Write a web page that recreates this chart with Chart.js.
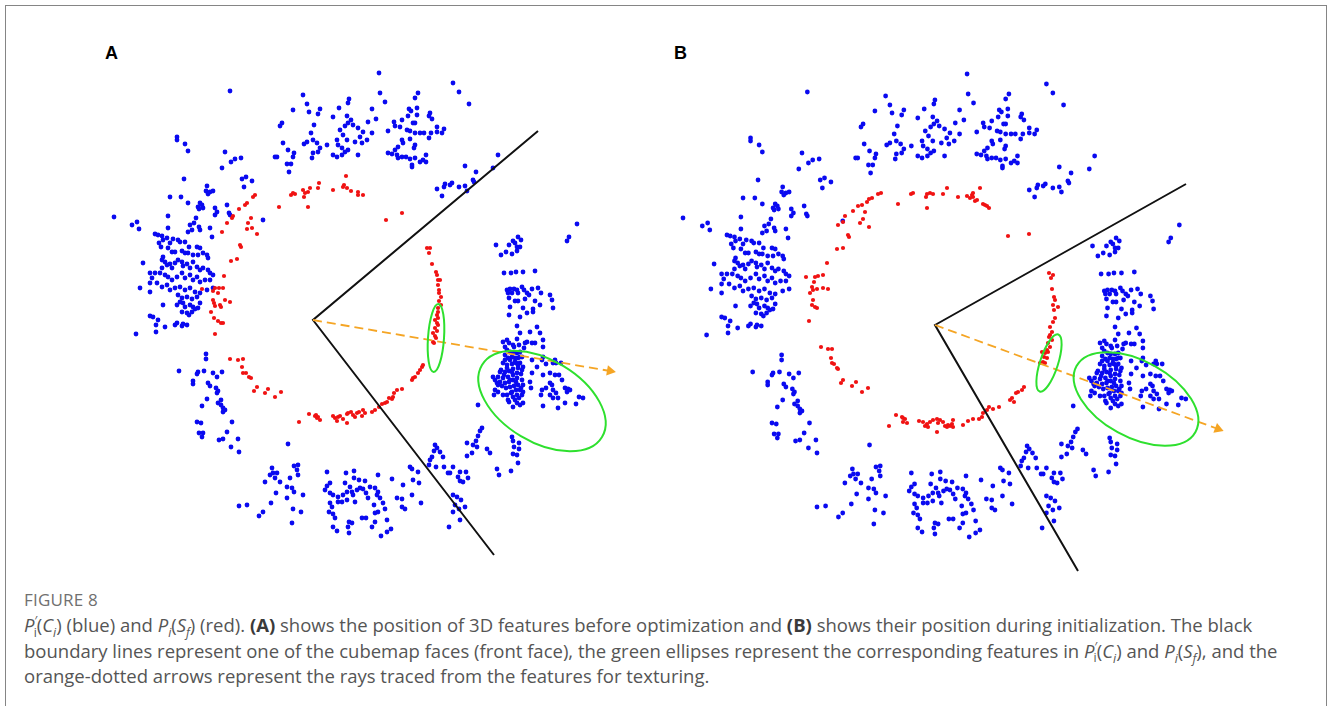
<!DOCTYPE html>
<html>
<head>
<meta charset="utf-8">
<script src="https://cdn.jsdelivr.net/npm/chart.js@4.4.1/dist/chart.umd.min.js"></script>
<style>
  html, body { margin: 0; padding: 0; background: #fff; }
  body { width: 1330px; height: 706px; position: relative; overflow: hidden; font-family: "Open Sans", sans-serif; }
  #frame { position: absolute; left: 5px; top: 5px; width: 1322px; height: 740px; border: 1.5px solid #858585; box-sizing: border-box; }
  .panel { position: absolute; }
  .lbl { position: absolute; font: bold 18px "Liberation Sans", Arial, sans-serif; color: #000; }
  #cap { position: absolute; left: 24px; top: 587px; color: #555555; font-size: 18.5px; line-height: 25.3px; white-space: nowrap; }
  #cap .fig { font-size: 17px; color: #707070; letter-spacing: 0.2px; }
  #cap sub, #cap sup { font-size: 0.66em; line-height: 0; }
  #cap b { font-weight: 700; color: #3a3a3a; }
</style>
</head>
<body>
<div id="frame"></div>
<div class="lbl" style="left:105px;top:43px">A</div>
<div class="lbl" style="left:674px;top:43px">B</div>
<canvas id="panelA" class="panel" width="540" height="540" style="left:100px;top:40px"></canvas>
<canvas id="panelB" class="panel" width="590" height="540" style="left:670px;top:40px"></canvas>
<div id="cap">
  <div class="fig">FIGURE 8</div>
  <div><i>P</i><sup>′</sup><sub style="margin-left:-0.3em">i</sub>(<i>C<sub>i</sub></i>) (blue) and <i>P<sub>i</sub></i>(<i>S<sub>f</sub></i>) (red). <b>(A)</b> shows the position of 3D features before optimization and <b>(B)</b> shows their position during initialization. The black</div>
  <div>boundary lines represent one of the cubemap faces (front face), the green ellipses represent the corresponding features in <i>P</i><sup>′</sup><sub style="margin-left:-0.3em">i</sub>(<i>C<sub>i</sub></i>) and <i>P<sub>i</sub></i>(<i>S<sub>f</sub></i>), and the</div>
  <div>orange-dotted arrows represent the rays traced from the features for texturing.</div>
</div>
<script>
/* ================================================================
   Feature positions (same units as panel A).
   Blue = P'i(Ci) camera features, shared by both panels.
================================================================ */
const blueUpperLeft = [
  [230,91],[177,137],[177,140],[185,144],[188,151],[225,152],[235,159],[241,158],[231,162],[222,168],
  [184,179],[242,179],[246,177],[252,181],[244,187],[114,217],[132,225],[137,222],[139,229],[170,197],
  [181,197],[188,203],[207,186],[206,191],[210,192],[213,191],[208,194],[200,203],[198,207],[202,205],
  [203,208],[199,209],[215,208],[217,212],[215,215],[227,205],[229,213],[230,215],[168,216],[196,218],
  [194,223],[190,225],[168,228],[188,232],[192,230],[199,227],[200,230],[210,228],[212,237],[263,220]
];
const blueLeftMass = [
  [155,234],[158,235],[162,236],[163,240],[167,238],[170,243],[173,239],[178,240],[180,242],[185,242],
  [189,247],[197,247],[200,248],[159,243],[161,247],[168,248],[172,252],[175,252],[182,251],[185,253],
  [188,253],[193,255],[198,255],[203,253],[207,255],[208,258],[163,257],[162,260],[165,262],[167,265],
  [170,264],[172,268],[175,263],[178,260],[182,262],[183,266],[187,264],[190,268],[193,262],[197,267],
  [200,270],[203,268],[208,270],[210,273],[213,275],[162,268],[160,273],[165,275],[168,277],[172,280],
  [177,277],[182,273],[185,278],[190,275],[193,280],[197,277],[200,282],[205,280],[210,280],[155,273],
  [150,273],[152,278],[150,283],[140,288],[143,263],[157,283],[162,287],[167,285],[170,290],[175,288],
  [180,287],[185,290],[190,288],[195,292],[200,293],[207,290],[213,288],[178,295],[182,298],[187,297],
  [192,299],[197,297],[200,303],[193,307],[190,305],[185,307],[183,303],[180,302],[177,305],[150,292],
  [163,305],[198,308],[195,309],[150,316],[153,317],[156,325],[158,320],[165,327],[156,332],[136,334],
  [175,325],[177,323],[182,326],[183,324],[187,325],[182,312],[187,313],[189,315],[192,312]
];
const blueTop = [
  [303,95],[307,104],[293,110],[309,112],[320,109],[318,114],[282,123],[280,126],[314,125],[311,133],
  [313,140],[304,144],[307,142],[317,143],[320,148],[318,152],[313,153],[312,158],[327,145],[283,143],
  [288,150],[294,153],[293,157],[275,157],[277,157],[287,164],[291,164],[289,172],
  [349,99],[348,103],[339,108],[333,117],[347,116],[351,120],[348,123],[345,126],[353,125],[358,128],
  [363,132],[368,122],[340,130],[343,135],[347,140],[337,140],[338,145],[342,148],[345,152],[348,150],
  [333,155],[337,157],[342,155],[358,155],[355,142],[360,137],[367,140],[362,143],
  [379,73],[380,93],[385,102],[372,109],[376,119],[372,133],[418,93],[415,98],[417,108],[409,109],
  [411,111],[408,116],[417,115],[402,120],[394,122],[395,126],[400,127],[415,123],[413,123],[430,113],
  [429,116],[432,119],[437,127],[444,129],[442,133],[437,132],[388,131],[407,130],[410,131],[415,133],
  [420,133],[424,133],[431,133],[429,138],[410,139],[402,140],[403,143],[415,145],[414,148],[398,147],
  [395,150],[388,153],[392,154],[397,155],[398,158],[402,157],[406,157],[410,159],[415,158],[420,162],
  [426,155],[426,162],[412,165],[412,167],[423,160],
  [453,83],[459,92],[469,104],[498,155],[465,166],[476,172],[493,168],[473,180],[474,182],[452,183],
  [445,184],[450,185],[444,187],[437,189],[459,187],[465,186],[467,191],[442,196]
];
const blueRight = [
  [577,224],[569,237],[567,241],
  [496,245],[501,255],[506,252],[509,245],[513,241],[515,243],[518,237],[521,240],[517,247],[520,247],
  [512,254],[517,251],[504,273],[511,273],[516,272],[523,272],[535,271],[507,290],[510,289],[514,289],
  [517,290],[522,287],[524,290],[532,289],[538,288],[508,293],[512,293],[518,293],[527,293],[529,295],
  [541,293],[550,295],[509,298],[515,301],[518,301],[525,299],[535,301],[540,305],[552,300],[553,308],
  [510,307],[523,308],[533,309],
  [509,315],[520,317],[527,313],[533,312],[517,326],[520,333],[530,332],[537,327],[540,333],[543,340],
  [535,343],[532,343],[525,343],[517,339],[503,342],[507,340],[509,343],[513,345],[505,347],
  [507,350],[510,352],[513,353],[517,353],[520,352],[522,357],[518,358],[515,358],[512,357],[508,358],
  [505,360],[503,363],[507,365],[512,364],[516,363],[520,363],[523,367],[518,368],[513,369],[509,371],
  [505,372],[517,373],[521,374],[513,375],[508,377],[503,378],[498,377],[495,380],[493,377],[497,383],
  [500,382],[502,386],[505,383],[509,382],[513,380],[517,378],[522,380],[523,385],[518,385],[514,386],
  [510,387],[512,392],[516,390],[520,390],[517,395],[522,395],[513,397],[507,395],[495,390],[494,395],
  [498,392],[513,407],[517,403],[520,405],[523,403],[509,402],[478,405],
  [505,355],[510,360],[515,362],[520,357],[507,368],[512,372],[518,365],[522,370],[504,375],[510,380],
  [516,382],[521,388],[506,388],[511,393],[515,400],[519,398],[508,400],[523,392],[501,370],[498,385],
  [503,395],[500,372],[514,347],[524,348],[519,345],
  [527,342],[532,360],[537,367],[532,373],[542,360],[543,357],[546,364],[543,375],[550,373],[553,363],
  [556,363],[555,375],[559,375],[562,380],[565,388],[568,389],[567,392],[570,390],[579,397],[583,398],
  [552,385],[553,390],[556,393],[558,398],[553,398],[542,390],[541,395],[543,406],[550,395],[558,408],
  [565,403],[576,404],[546,388],[550,383],[530,382],[531,388],[543,347],[555,360],[561,363]
];
const blueLowerLeft = [
  [206,354],[206,359],[179,371],[198,372],[197,374],[204,371],[213,373],[222,372],[217,377],[193,381],
  [193,384],[208,383],[210,386],[216,388],[218,391],[217,393],[207,399],[221,400],[218,403],[221,405],
  [202,406],[223,408],[223,412],[225,410],[197,422],[201,423],[232,422],[199,433],[203,433],[202,437],
  [227,432],[219,440],[223,439],[238,439],[231,447],[239,452],[288,444]
];
const blueBottom = [
  [294,466],[298,465],[297,470],[298,475],[272,468],[270,475],[273,473],[277,473],[275,478],[265,482],
  [280,482],[290,478],[287,487],[292,488],[294,492],[303,495],[276,493],[287,498],[271,503],[247,505],
  [239,506],[293,509],[301,512],[263,512],[259,516],[292,523],
  [327,472],[346,473],[354,471],[365,481],[330,483],[327,486],[325,490],[330,493],[333,495],[338,497],
  [343,495],[345,483],[350,487],[353,495],[352,492],[357,490],[360,488],[363,489],[366,493],[368,498],
  [347,500],[338,502],[342,502],[355,502],[330,503],[332,507],[329,512],[333,514],[335,518],[333,527],
  [337,531],[349,522],[352,523],[348,527],[349,533],[362,518],[366,518],[354,478],[359,480],[347,492],
  [370,487]
];
const blueLowerRight = [
  [482,428],[480,431],[478,436],[476,441],[473,445],[477,447],[472,453],[467,456],[467,443],[487,449],
  [490,453],[512,437],[513,441],[514,447],[519,443],[519,449],[517,455],[513,454],[518,463],[497,469],
  [499,475],[511,471],[435,445],[437,448],[434,451],[440,452],[443,457],[432,457],[430,460],[429,465],
  [436,467],[444,467],[453,467],[450,473],[448,473],[460,472],[466,472],[458,477],[460,481],[468,478],
  [463,482],[410,467],[412,469],[418,472],[413,480],[403,485],[419,483],[412,495],[392,479],[397,498],
  [402,499],[402,507],[405,509],[421,503],[453,495],[457,497],[461,500],[455,505],[465,507],[459,509],
  [453,512],[460,520],[449,527],[378,475],[375,488],[378,492],[377,495],[380,498],[383,503],[374,505],
  [385,509],[375,513],[378,512],[387,520],[375,522],[391,529],[387,532],[381,536],[372,527]
];

/* Red = Pi(Sf) surface features, one set per panel */
const redA = [
  [346,176],[344,185],[343,187],[347,188],[351,191],[358,192],[363,195],[358,195],[333,190],[319,183],
  [318,188],[310,188],[308,192],[305,193],[304,197],[303,190],[295,194],[291,195],[293,193],[279,207],
  [308,207],[255,195],[253,197],[247,203],[245,205],[239,209],[233,216],[232,218],[227,223],[251,218],
  [248,223],[247,229],[252,228],[257,234],[222,232],[240,245],[241,247],[237,259],[231,261],[224,276],
  [202,289],[215,288],[219,288],[223,288],[213,291],[218,293],[213,300],[214,303],[215,306],[220,305],
  [225,300],[230,302],[221,307],[211,312],[214,318],[218,321],[221,323],[223,323],[215,334],
  [230,359],[238,360],[243,359],[242,367],[243,373],[246,373],[249,377],[251,378],[254,391],[257,387],
  [265,393],[268,389],[275,397],[281,392],[299,422],[309,414],[315,416],[317,418],[318,417],[320,420],
  [316,415],[333,416],[335,418],[338,417],[337,421],[340,416],[343,419],[347,414],[348,413],[351,412],
  [353,415],[355,417],[357,413],[359,412],[362,416],[363,410],[347,423],[365,413],
  [372,412],[375,410],[379,407],[382,404],[385,403],[387,402],[392,399],[393,397],[389,398],[394,393],
  [397,390],[402,389],[412,380],[413,378],[415,377],[418,373],[420,370],[422,367],[423,365],
  [386,220],[402,213],
  [427,248],[430,248],[429,253],[432,264],[436,272],[437,275],[438,280],[440,280],[438,285],[439,290],
  [439,293],[441,297],[439,301],[441,305],[438,308],[438,312],[437,315],[438,318],[435,320],[437,323],
  [438,325],[435,328],[437,331],[433,333],[435,336],[436,338],[433,342],[434,343]
];
const redB = [
  [881,193],[878,194],[872,198],[869,199],[867,202],[862,205],[858,206],[853,211],[865,212],[863,219],
  [860,223],[869,227],[845,216],[843,222],[838,225],[848,235],[849,237],[843,248],[837,249],[827,263],
  [823,275],[818,276],[815,277],[806,277],[814,282],[812,287],[813,290],[817,289],[823,288],[828,289],
  [810,293],[813,300],[817,308],[815,307],[812,305],[911,194],[913,193],[898,204],[927,194],[926,197],
  [930,193],[933,194],[943,194],[947,188],[927,208],
  [958,197],[967,196],[970,198],[972,195],[973,193],[973,197],[975,201],[980,188],[983,204],[985,205],
  [987,206],[989,208],[977,200],[1008,236],[1029,234],
  [1049,273],[1053,275],[1051,278],[1052,289],[1054,297],[1055,300],[1053,305],[1058,307],[1054,310],
  [1055,318],[1053,322],[1050,327],[1052,332],[1049,337],[1052,340],[1048,343],[1050,347],[1047,350],
  [1045,353],[1048,352],[1044,357],[1047,358],[1043,362],[1045,363],[1042,352],[1040,363],[1050,335],
  [1024,387],[1022,390],[1018,392],[1016,393],[1012,398],[1014,402],[1010,400],[999,407],[993,409],
  [989,407],[987,410],[983,413],[982,417],[979,419],[973,419],[968,421],[963,425],[953,420],[952,424],
  [953,427],[950,426],
  [809,321],[821,347],[828,349],[832,349],[831,358],[832,363],[834,364],[837,368],[838,369],[843,380],
  [841,383],[852,386],[856,382],[862,392],[868,388],[889,426],[896,415],[902,417],[903,418],[905,419],
  [907,423],[903,422],[919,421],[923,422],[925,426],[927,424],[928,427],[930,422],[933,420],[937,419],
  [938,423],[940,420],[943,422],[945,426],[947,427],[937,432],[948,425]
];

/* Cubemap front-face boundary (top end, vertex, bottom end) */
const boundaryA = [[538,131],[313,320],[494,555]];
const boundaryB = [[1186,184],[935,325],[1078,571]];
/* Ray arrows (start, arrowhead centre) */
const rayA = [[313,320],[610,371]];
const rayB = [[935,325],[1218,429]];
/* Green ellipses: centre x, centre y, half-width, half-height, tilt deg */
const ellipsesA = [[436,338,8,34,4],[542,401,70,41,31]];
const ellipsesB = [[1049,363,9,30,18],[1136,399,68,38,29]];

const BLUE  = "#0a0af0";
const RED   = "#f01212";
const GREEN = "#2ee02e";
const ORANGE = "#f5a524";
const BLACK = "#111111";

const pts = arr => arr.map(p => ({ x: p[0], y: p[1] }));
const blueAll = [].concat(blueUpperLeft, blueLeftMass, blueTop, blueRight, blueLowerLeft, blueBottom, blueLowerRight);

function ellipsePlugin(list) {
  return {
    id: "ellipses",
    afterDatasetsDraw(chart) {
      const { ctx, scales: { x, y } } = chart;
      list.forEach(e => {
        const cx = x.getPixelForValue(e[0]), cy = y.getPixelForValue(e[1]);
        const rx = Math.abs(x.getPixelForValue(e[0] + e[2]) - cx);
        const ry = Math.abs(y.getPixelForValue(e[1] + e[3]) - cy);
        ctx.save();
        ctx.beginPath();
        ctx.ellipse(cx, cy, rx, ry, e[4] * Math.PI / 180, 0, 2 * Math.PI);
        ctx.strokeStyle = GREEN;
        ctx.lineWidth = 2;
        ctx.stroke();
        ctx.restore();
      });
    }
  };
}

function arrowAngle(ray) {
  const dx = ray[1][0] - ray[0][0], dy = ray[1][1] - ray[0][1];
  return 90 + Math.atan2(dy, dx) * 180 / Math.PI;
}

function makePanel(id, cfg) {
  const el = document.getElementById(id);
  const blueX = cfg.blueAxes ? "xs" : "x";
  const blueY = cfg.blueAxes ? "ys" : "y";
  const scales = {
    x: { type: "linear", min: cfg.x[0], max: cfg.x[1], display: false },
    y: { type: "linear", min: cfg.y[0], max: cfg.y[1], reverse: true, display: false },
  };
  if (cfg.blueAxes) {
    scales.xs = { type: "linear", axis: "x", min: cfg.blueAxes.x[0], max: cfg.blueAxes.x[1], display: false };
    scales.ys = { type: "linear", axis: "y", min: cfg.blueAxes.y[0], max: cfg.blueAxes.y[1], reverse: true, display: false };
  }
  return new Chart(el.getContext("2d"), {
    type: "scatter",
    data: {
      datasets: [
        { data: pts([cfg.ray[1]]), pointStyle: "triangle", pointRadius: 6, pointRotation: arrowAngle(cfg.ray),
          backgroundColor: ORANGE, borderColor: ORANGE, borderWidth: 0, clip: false },
        { data: pts(cfg.ray), showLine: true, borderColor: ORANGE, borderWidth: 1.8, borderDash: [9, 5],
          pointRadius: 0, clip: false },
        { data: pts(cfg.boundary), showLine: true, borderColor: BLACK, borderWidth: 2, pointRadius: 0, clip: false },
        { data: pts(cfg.red), backgroundColor: RED, borderWidth: 0, pointRadius: 2.1, clip: false },
        { data: pts(blueAll), xAxisID: blueX, yAxisID: blueY, backgroundColor: BLUE, borderWidth: 0,
          pointRadius: 2.4, clip: false },
      ],
    },
    options: {
      responsive: false, animation: false, events: [],
      layout: { padding: 0, autoPadding: false },
      plugins: { legend: { display: false }, tooltip: { enabled: false } },
      scales,
    },
    plugins: [ellipsePlugin(cfg.ellipses)],
  });
}

makePanel("panelA", {
  x: [100, 640], y: [40, 580],
  red: redA, boundary: boundaryA, ray: rayA, ellipses: ellipsesA,
});

/* Panel B shows the same blue cloud, spread ~7% wider horizontally */
makePanel("panelB", {
  x: [670, 1260], y: [40, 580],
  blueAxes: { x: [101.87, 652.24], y: [39, 579] },
  red: redB, boundary: boundaryB, ray: rayB, ellipses: ellipsesB,
});
</script>
</body>
</html>
